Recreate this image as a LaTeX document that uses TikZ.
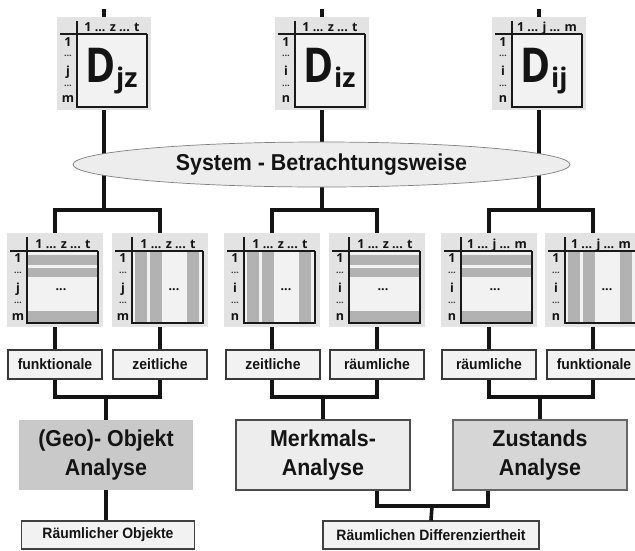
\documentclass[tikz,border=0pt]{standalone}
\usepackage{fontspec}
\setmainfont{Liberation Sans}
\newfontfamily\lblfont[FakeStretch=0.93]{Liberation Sans}
\newfontfamily\matfont{Open Sans}
\newfontfamily\dfont[FakeStretch=0.85]{Open Sans}
\usetikzlibrary{shapes.geometric,calc}

% light grey matrix with a data box, a header row and row labels
\newcommand\topmat[7]{% name, centre x, header mid, header end, row mid, row end, subscript
  \node[topbg] (#1) at (#2,63.5) {};
  \fill[black!5] (#2-27,34) rectangle (#2+43,107);
  \draw[matline] (#2-44,34) -- (#2+43,34);
  \draw[matline] (#2-27,21) -- (#2-27,107) -- (#2+43,107) -- (#2+43,34);
  \node[mlab,anchor=base] at (#2+8,31) {1 ... #3 ... #4};
  \node[mlab,anchor=base] at (#2-36,46) {1};
  \node[mdot,anchor=base] at (#2-36,56) {…};
  \node[mlab,anchor=base] at (#2-36,75) {#5};
  \node[mdot,anchor=base] at (#2-36,86) {…};
  \node[mlab,anchor=base] at (#2-36,102) {#6};
  \node[anchor=base west,inner sep=0,text=black!92,font=\dfont\bfseries\fontsize{48}{48}\selectfont] at (#2-19,82) {D};
  \node[anchor=base west,inner sep=0,text=black!92,font=\matfont\bfseries\fontsize{27}{27}\selectfont] at (#2+12,87) {#7};
}
\newcommand\hstripes[1]{%
  \fill[stripe] (#1-28,255) rectangle (#1+43,265);
  \fill[stripe] (#1-28,268) rectangle (#1+43,277);
  \fill[stripe] (#1-28,311) rectangle (#1+43,322);
  \node[mlab,anchor=base] at (#1+6,290.5) {...};
}
\newcommand\vstripes[1]{%
  \fill[stripe] (#1-25,251) rectangle (#1-13,323);
  \fill[stripe] (#1-10,251) rectangle (#1+2,323);
  \fill[stripe] (#1+27,251) rectangle (#1+39,323);
  \node[mlab,anchor=base] at (#1+14,290.5) {...};
}
\newcommand\midmat[7]{% name, centre x, header mid, header end, row mid, row end, stripes
  \node[midbg] (#1) at (#2,280) {};
  \fill[black!5] (#2-28,251) rectangle (#2+43,323);
  #7{#2}
  \draw[matline] (#2-45,251) -- (#2+43,251);
  \draw[matline] (#2-28,237) -- (#2-28,323) -- (#2+43,323) -- (#2+43,251);
  \node[mlab,anchor=base] at (#2+8,248) {1 ... #3 ... #4};
  \node[mlab,anchor=base] at (#2-37,262.5) {1};
  \node[mdot,anchor=base] at (#2-37,273.5) {…};
  \node[mlab,anchor=base] at (#2-37,292) {#5};
  \node[mdot,anchor=base] at (#2-37,303.5) {…};
  \node[mlab,anchor=base] at (#2-37,320) {#6};
}

\begin{document}
\begin{tikzpicture}[x=1pt,y=-1pt,
  conn/.style={line width=3.6pt,draw=black!92},
  matline/.style={line width=2.2pt,draw=black!90},
  topbg/.style={fill=black!11,draw=none,inner sep=0,minimum width=94pt,minimum height=93pt},
  midbg/.style={fill=black!11,draw=none,inner sep=0,minimum width=96pt,minimum height=94pt},
  stripe/.style={fill=black!30},
  mlab/.style={inner sep=0,text=black!92,font=\matfont\bfseries\fontsize{12.5}{13}\selectfont},
  mdot/.style={inner sep=0,text=black!80,font=\matfont\bfseries\fontsize{9}{9}\selectfont},
  lbox/.style={draw=black!78,line width=1.1pt,fill=black!5,inner sep=0,minimum width=94pt,minimum height=29pt,
    text=black!92,font=\lblfont\bfseries\fontsize{15}{18}\selectfont},
  bigbox/.style={inner sep=0,minimum width=174pt,minimum height=70pt,align=center,
    text=black!92,font=\lblfont\bfseries\fontsize{23}{29}\selectfont},
  resbox/.style={draw=black!75,line width=1.1pt,fill=black!5,inner sep=0,minimum height=28pt,
    text=black!92,font=\lblfont\bfseries\fontsize{15}{18}\selectfont},
]
\clip (0,0) rectangle (635,550);
\fill[white] (0,0) rectangle (635,550);

% junction points of the connector tree
\coordinate (s1) at (104,9);
\coordinate (s2) at (322,9);
\coordinate (s3) at (539,9);
\coordinate (j1) at (104,210);
\coordinate (j2) at (322,210);
\coordinate (j3) at (539,210);
\coordinate (k1) at (106,397);
\coordinate (k2) at (323,397);
\coordinate (k3) at (540,397);
\coordinate (b1) at (432,506);

% data matrices
\topmat{djz}{104}{z}{t}{j}{m}{jz}
\topmat{diz}{322}{z}{t}{i}{n}{iz}
\topmat{dij}{539}{j}{m}{i}{n}{ij}

\midmat{m1}{55}{z}{t}{j}{m}{\hstripes}
\midmat{m2}{160}{z}{t}{j}{m}{\vstripes}
\midmat{m3}{272}{z}{t}{i}{n}{\vstripes}
\midmat{m4}{377}{z}{t}{i}{n}{\hstripes}
\midmat{m5}{489}{j}{m}{i}{n}{\hstripes}
\midmat{m6}{593}{j}{m}{i}{n}{\vstripes}

% aspect labels
\node[lbox] (l1) at (55,364.5) {funktionale};
\node[lbox] (l2) at (160,364.5) {zeitliche};
\node[lbox] (l3) at (273,364.5) {zeitliche};
\node[lbox] (l4) at (377,364.5) {räumliche};
\node[lbox] (l5) at (489,364.5) {räumliche};
\node[lbox] (l6) at (594,364.5) {funktionale};

% analyses
\node[bigbox,fill=black!21] (geo) at (106,455) {(Geo)- Objekt\\Analyse};
\node[bigbox,fill=black!7,draw=black!70,line width=1.1pt] (merk) at (323,455) {Merkmals-\\Analyse};
\node[bigbox,fill=black!16,draw=black!60,line width=1.1pt] (zust) at (540,455) {Zustands\\Analyse};

% results
\node[resbox,minimum width=173pt] (robj) at (108,535) {Räumlicher Objekte};
\node[resbox,minimum width=216pt] (diff) at (431,535) {Räumlichen Differenziertheit};

% connectors
\draw[conn] (s1) -- (djz.north);
\draw[conn] (s2) -- (diz.north);
\draw[conn] (s3) -- (dij.north);
\draw[conn] (djz.south) -- (j1);
\draw[conn] (diz.south) -- (j2);
\draw[conn] (dij.south) -- (j3);
\draw[conn] (m1.north) |- (j1) -| (m2.north);
\draw[conn] (m3.north) |- (j2) -| (m4.north);
\draw[conn] (m5.north) |- (j3) -| (m6.north);
\draw[conn] (m1.south) -- (l1.north);
\draw[conn] (m2.south) -- (l2.north);
\draw[conn] (m3.south) -- (l3.north -| m3.south);
\draw[conn] (m4.south) -- (l4.north);
\draw[conn] (m5.south) -- (l5.north);
\draw[conn] (m6.south) -- (l6.north -| m6.south);
\draw[conn] (l1.south) |- (k1) -| (l2.south);
\draw[conn] (l3.south -| m3.south) |- (k2) -| (l4.south);
\draw[conn] (l5.south) |- (k3) -| (l6.south -| m6.south);
\draw[conn] (k1) -- (geo.north);
\draw[conn] (k2) -- (merk.north);
\draw[conn] (k3) -- (zust.north);
\draw[conn] (geo.south) -- (geo.south |- robj.north);
\draw[conn] ($(merk.south)+(54,0)$) |- (b1) -| ($(zust.south)+(-52,0)$);
\draw[conn] (b1) -- (diff.north);

% viewpoint ellipse over the trunk lines
\node[ellipse,draw=black!50,line width=0.7pt,fill=black!7,minimum width=497pt,minimum height=45pt,inner sep=0,
  text=black!92,font=\lblfont\bfseries\fontsize{23}{26}\selectfont] (sys) at (321.5,164.5) {System - Betrachtungsweise};
\end{tikzpicture}
\end{document}
